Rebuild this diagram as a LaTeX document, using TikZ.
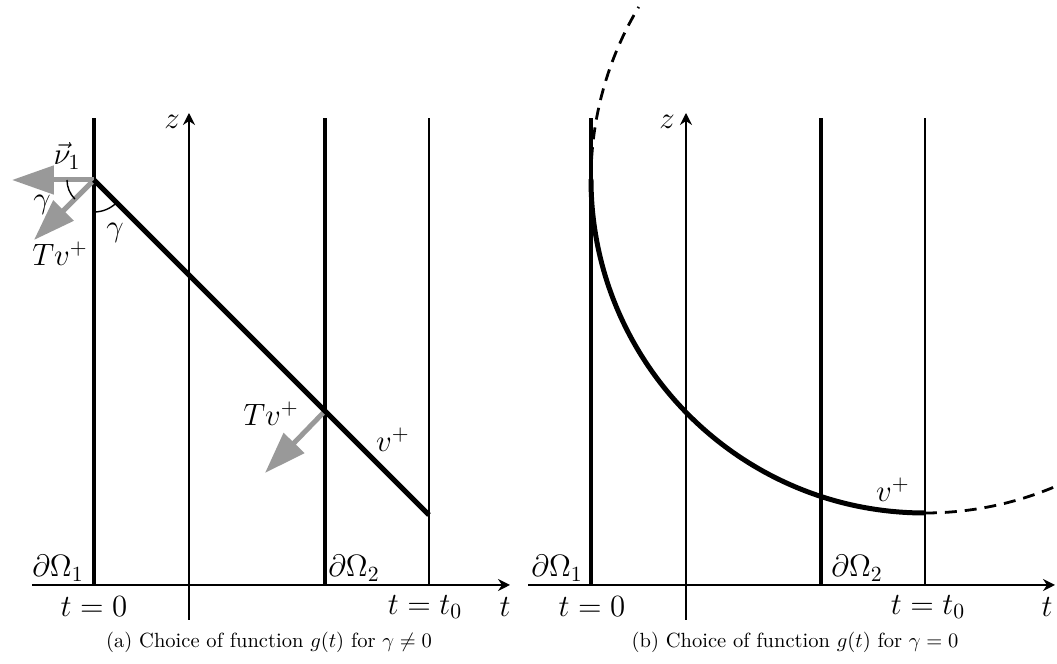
\RequirePackage{fix-cm}
\documentclass[tikz,border=0pt]{standalone}
\usetikzlibrary{arrows.meta}
\begin{document}
\begin{tikzpicture}[x=1.764cm, y=1.764cm, >={Stealth[length=6pt,width=6pt]},
  thinline/.style={line width=1.1pt},
  wall/.style={line width=2pt},
  graph/.style={line width=2.5pt},
  gamarc/.style={line width=0.7pt},
  vec/.style={line width=2.5pt, black!40, -{Triangle[length=21pt,width=14pt]}},
  caption/.style={font=\fontsize{10.3}{12}\selectfont},
  every node/.style={font=\fontsize{15.5}{18}\selectfont}]
  \useasboundingbox (-0.94,-0.79) rectangle (9.63,5.85);
  % (a) gamma != 0
  \coordinate (P) at (0,4.05);
  \coordinate (Q) at (2.31,1.74);
  \draw[->, thinline] (-0.62,0) -- (4.16,0);
  \draw[->, thinline] (0.95,-0.35) -- (0.95,4.72);
  \draw[wall] (0,0) -- (0,4.67);
  \draw[wall] (2.31,0) -- (2.31,4.67);
  \draw[thinline] (3.35,0) -- (3.35,4.67);
  \draw[vec] (P) -- ++(-0.82,0);
  \draw[vec] (P) -- ++(-0.6,-0.6);
  \draw[vec] (Q) -- ++(-0.6,-0.62);
  \draw[graph] (P) -- (3.35,0.70);
  \draw[gamarc] (P) ++(-90:0.32) arc[start angle=-90, end angle=-45, radius=0.32];
  \draw[gamarc] (P) ++(180:0.27) arc[start angle=180, end angle=225, radius=0.27];
  \node (za) at (0.78,4.63) {$z$};
  \node (ta) at (4.11,-0.22) {$t$};
  \node (nu) at (-0.27,4.29) {$\vec{\nu}_1$};
  \node (ga1) at (-0.52,3.80) {$\gamma$};
  \node (ga2) at (0.21,3.52) {$\gamma$};
  \node (tv1) at (-0.34,3.31) {$Tv^+$};
  \node (tv2) at (1.77,1.71) {$Tv^+$};
  \node (va) at (2.99,1.45) {$v^+$};
  \node (om1a) at (-0.36,0.17) {$\partial\Omega_1$};
  \node (om2a) at (2.60,0.17) {$\partial\Omega_2$};
  \node (t0a) at (0,-0.22) {$t=0$};
  \node (t1a) at (3.31,-0.22) {$t=t_0$};
  \node[caption] (capa) at (1.75,-0.57) {(a)\ Choice of function $g(t)$ for $\gamma\neq0$};
  % (b) gamma = 0
  \begin{scope}[shift={(4.97,0)}]
    \draw[->, thinline] (-0.63,0) -- (4.64,0);
    \draw[->, thinline] (0.95,-0.35) -- (0.95,4.72);
    \draw[wall] (0,0) -- (0,4.67);
    \draw[wall] (2.30,0) -- (2.30,4.67);
    \draw[thinline] (3.34,0) -- (3.34,4.67);
    \draw[graph] (0,4.06) arc[start angle=180, end angle=270, radius=3.34];
    \draw[line width=1.4pt, dash pattern=on 6pt off 4pt] (0,4.06) arc[start angle=180, end angle=149, radius=3.34];
    \draw[line width=1.4pt, dash pattern=on 6pt off 4pt] (3.34,0.72) arc[start angle=270, end angle=293, radius=3.34];
    \node (zb) at (0.76,4.63) {$z$};
    \node (tb) at (4.56,-0.22) {$t$};
    \node (vb) at (3.02,0.95) {$v^+$};
    \node (om1b) at (-0.34,0.17) {$\partial\Omega_1$};
    \node (om2b) at (2.66,0.17) {$\partial\Omega_2$};
    \node (t0b) at (0.01,-0.22) {$t=0$};
    \node (t1b) at (3.37,-0.22) {$t=t_0$};
    \node[caption] (capb) at (2.04,-0.57) {(b)\ Choice of function $g(t)$ for $\gamma=0$};
  \end{scope}
\end{tikzpicture}
\end{document}
